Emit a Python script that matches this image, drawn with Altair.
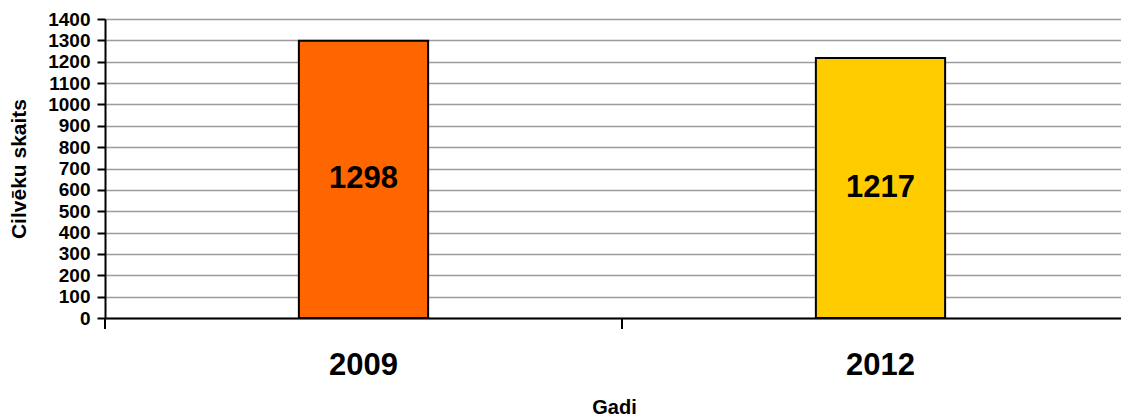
import altair as alt
import pandas as pd

years = ["2009", "2012"]
values = [1298, 1217]
bar_colors = ["#FF6600", "#FFCC00"]
y_ticks = list(range(0, 1500, 100))

df = pd.DataFrame({"year": years, "value": values, "color": bar_colors})

FONT = "Liberation Sans"

x_scale = alt.Scale(paddingInner=0, paddingOuter=0, range=[0, 1034])
x_axis = alt.Axis(
    title="Gadi",
    labelAngle=0,
    labelFont=FONT,
    labelFontSize=31,
    labelFontWeight="bold",
    labelColor="black",
    labelBaseline="middle",
    labelPadding=47,
    ticks=False,
    domainColor="black",
    domainWidth=2,
    grid=False,
    titleFont=FONT,
    titleFontSize=20,
    titleFontWeight="bold",
    titleColor="black",
    titleX=509,
    titleY=89,
    titleBaseline="middle",
    titleAlign="center",
)

x_enc = alt.X("year:N", sort=years, scale=x_scale, axis=x_axis)

y_axis = alt.Axis(
    title="Cilvēku skaits",
    values=y_ticks,
    format="d",
    labelFont=FONT,
    labelFontSize=19,
    labelFontWeight="bold",
    labelColor="black",
    labelPadding=7,
    tickSize=8,
    tickWidth=2,
    tickColor="black",
    domainColor="black",
    domainWidth=2,
    grid=True,
    gridColor="#9c9c9c",
    gridWidth=1.6,
    titleFont=FONT,
    titleFontSize=21,
    titleFontWeight="bold",
    titleColor="black",
    titleX=-86,
    titleY=149.5,
    titleBaseline="middle",
    titleAlign="center",
)

y_scale = alt.Scale(domain=[0, 1400], nice=False)

bars = alt.Chart(df).mark_bar(
    width=alt.RelativeBandSize(0.25), stroke="black", strokeWidth=2
).encode(
    x=x_enc,
    y=alt.Y("value:Q", scale=y_scale, axis=y_axis),
    color=alt.Color("color:N", scale=None),
)

labels = alt.Chart(df).transform_calculate(
    mid="datum.value / 2"
).mark_text(
    font=FONT, fontSize=31, fontWeight="bold", color="black", baseline="middle", align="center"
).encode(
    x=x_enc,
    y=alt.Y("mid:Q", scale=y_scale, axis=y_axis),
    text=alt.Text("value:Q"),
)

# category-boundary ticks below the x axis
ticks = alt.Chart(df).mark_rule(color="black", strokeWidth=2).encode(
    x=alt.X("year:N", sort=years, scale=x_scale, axis=x_axis, bandPosition=0),
    y=alt.value(299),
    y2=alt.value(310),
)

chart = alt.layer(bars, labels, ticks).properties(
    width=1016,
    height=299,
    autosize=alt.AutoSizeParams(type="none"),
    padding={"left": 97, "top": 11, "right": 0, "bottom": 100},
    background="white",
).configure_view(stroke=None)

chart.save("out.html", embed_options={"renderer": "svg", "actions": False})
